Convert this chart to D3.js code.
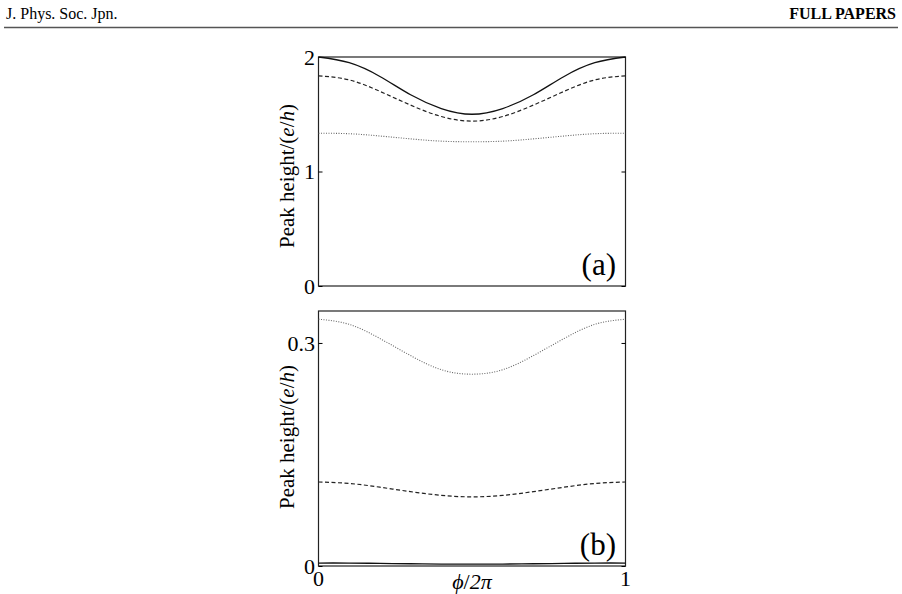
<!DOCTYPE html>
<html lang="en">
<head>
<meta charset="UTF-8">
<title>Peak height vs phi/2pi</title>
<script src="https://d3js.org/d3.v7.min.js"></script>
<style>
  body { margin: 0; background: white; }
  svg text { font-family: "Liberation Serif", "DejaVu Serif", serif; fill: black; }
</style>
</head>
<body>
<svg id="chart" width="902" height="594"></svg>
<script>
// phi / 2pi sample points
var phase = [0, 0.1, 0.2, 0.3, 0.4, 0.5, 0.6, 0.7, 0.8, 0.9, 1];

// panel (a)
var aSolid  = [2.0, 1.95, 1.83, 1.67, 1.55, 1.50, 1.55, 1.67, 1.83, 1.95, 2.0];
var aDashed = [1.835, 1.80, 1.70, 1.58, 1.48, 1.44, 1.48, 1.58, 1.70, 1.80, 1.835];
var aDotted = [1.334, 1.33, 1.31, 1.285, 1.265, 1.26, 1.265, 1.285, 1.31, 1.33, 1.334];

// panel (b)
var bSolid  = [0.004, 0.004, 0.0035, 0.003, 0.0026, 0.0025, 0.0026, 0.003, 0.0035, 0.004, 0.004];
var bDashed = [0.113, 0.111, 0.106, 0.100, 0.095, 0.093, 0.095, 0.100, 0.106, 0.111, 0.113];
var bDotted = [0.332, 0.325, 0.306, 0.283, 0.264, 0.258, 0.264, 0.283, 0.306, 0.325, 0.332];

var aTicks = [0, 1, 2];
var bTicks = [0, 0.3];
var xTicks = [0, 1];

var serif = "'Liberation Serif', 'DejaVu Serif', serif";
var svg = d3.select("#chart");

// page header
svg.append("text").attr("x", 6).attr("y", 19).attr("font-family", serif)
  .style("font-size", "16px").text("J. Phys. Soc. Jpn.");
svg.append("text").attr("x", 896).attr("y", 19).attr("text-anchor", "end").attr("font-family", serif)
  .style("font-size", "16px").style("font-weight", "bold").text("FULL PAPERS");
svg.append("line").attr("x1", 4).attr("x2", 898).attr("y1", 27.5).attr("y2", 27.5)
  .attr("stroke", "#555").attr("stroke-width", 1.5);

var x = d3.scaleLinear().domain([0, 1]).range([318.5, 625.5]);

function drawPanel(top, bottom, ymax, ticks, series, tag, labelY, showX) {
  var y = d3.scaleLinear().domain([0, ymax]).range([bottom, top]);
  var g = svg.append("g");

  // frame
  g.append("rect").attr("x", x(0)).attr("y", top)
    .attr("width", x(1) - x(0)).attr("height", bottom - top)
    .attr("fill", "none").attr("stroke", "#222").attr("stroke-width", 1.2);

  // ticks inside on both sides
  var left = d3.axisRight(y).tickValues(ticks).tickSize(4).tickFormat("");
  g.append("g").attr("transform", "translate(" + x(0) + ",0)").call(left)
    .call(s => s.select(".domain").remove());
  var right = d3.axisLeft(y).tickValues(ticks).tickSize(4).tickFormat("");
  g.append("g").attr("transform", "translate(" + x(1) + ",0)").call(right)
    .call(s => s.select(".domain").remove());

  // tick labels
  g.selectAll(".ylab").data(ticks).enter().append("text")
    .attr("x", 315).attr("y", d => y(d)).attr("dy", "0.35em")
    .attr("text-anchor", "end").attr("font-family", serif).style("font-size", "22px")
    .text(d => d3.format("")(d));

  if (showX) {
    g.selectAll(".xlab").data(xTicks).enter().append("text")
      .attr("x", d => x(d)).attr("y", bottom + 20)
      .attr("text-anchor", "middle").attr("font-family", serif).style("font-size", "22px")
      .text(d => d);
  }

  var line = d3.line().x((d, i) => x(phase[i])).y(d => y(d)).curve(d3.curveNatural);
  series.forEach(function (s) {
    g.append("path").datum(s.values).attr("d", line)
      .attr("fill", "none").attr("stroke", s.color).attr("stroke-width", s.width)
      .attr("stroke-dasharray", s.dash);
  });

  g.append("text").attr("x", 616).attr("y", bottom - 11)
    .attr("text-anchor", "end").attr("font-family", serif).style("font-size", "31px").text(tag);

  // y axis title
  var t = g.append("text").attr("transform", "translate(294," + labelY + ") rotate(-90)")
    .attr("text-anchor", "middle").attr("font-family", serif).style("font-size", "21px");
  t.append("tspan").text("Peak height/(");
  t.append("tspan").style("font-style", "italic").text("e");
  t.append("tspan").text("/");
  t.append("tspan").style("font-style", "italic").text("h");
  t.append("tspan").text(")");
}

drawPanel(57, 286, 2, aTicks, [
  { values: aSolid, color: "#111", width: 1.3, dash: null },
  { values: aDashed, color: "#222", width: 1.2, dash: "4,2.5" },
  { values: aDotted, color: "#666", width: 1.1, dash: "1,1.5" }
], "(a)", 176, false);

drawPanel(311, 566, 0.343, bTicks, [
  { values: bSolid, color: "#111", width: 1.3, dash: null },
  { values: bDashed, color: "#222", width: 1.2, dash: "4,2.5" },
  { values: bDotted, color: "#666", width: 1.1, dash: "1,1.5" }
], "(b)", 437, true);

// x axis title
var xt = svg.append("text").attr("x", 472).attr("y", 589).attr("font-family", serif)
  .attr("text-anchor", "middle").style("font-size", "22px").style("font-style", "italic");
xt.append("tspan").text("\u03D5");
xt.append("tspan").style("font-style", "normal").text("/");
xt.append("tspan").text("2\u03C0");
</script>
</body>
</html>
